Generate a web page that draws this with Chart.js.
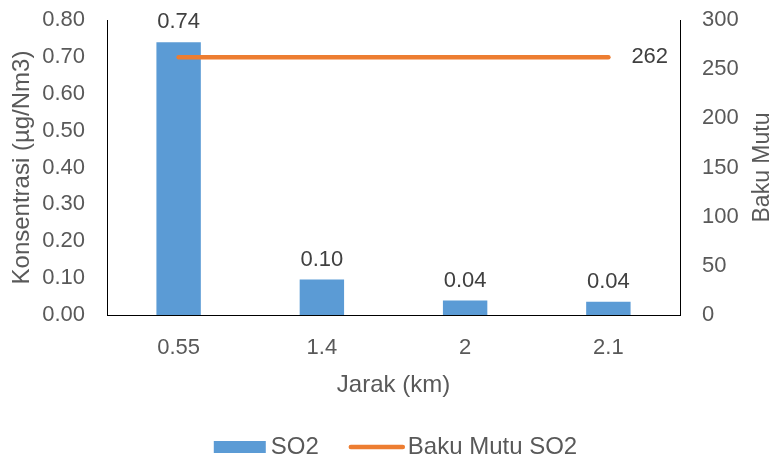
<!DOCTYPE html>
<html>
<head>
<meta charset="utf-8">
<script src="https://cdn.jsdelivr.net/npm/chart.js@4.4.1/dist/chart.umd.min.js"></script>
<style>
  html, body { margin: 0; padding: 0; background: #fff; }
  #wrap { width: 777px; height: 461px; }
</style>
</head>
<body>
<div id="wrap"><canvas id="c" width="777" height="461"></canvas></div>
<script>
// Distance from source (km) and measured SO2 concentration
const categories = ['0.55', '1.4', '2', '2.1'];
const so2Values = [0.74, 0.096, 0.039, 0.036];
const bakuMutuValues = [262, 262, 262, 262];
const leftTicks = [0, 0.8, 0.1];   // min, max, step
const rightTicks = [0, 300, 50];   // min, max, step
const rightTitle = 'Baku Mutu';

const FONT = '"Liberation Sans", Arial, sans-serif';
const BLUE = '#5B9BD5';
const ORANGE = '#ED7D31';
const GREY = '#595959';

// Writes the value above each bar and beside the last point of the line
const valueLabels = {
  id: 'valueLabels',
  afterDatasetsDraw(chart) {
    const ctx = chart.ctx;
    ctx.save();
    ctx.font = '22px ' + FONT;
    ctx.fillStyle = '#404040';
    const barMeta = chart.getDatasetMeta(0);
    barMeta.data.forEach((el, i) => {
      ctx.textAlign = 'center';
      ctx.textBaseline = 'alphabetic';
      ctx.fillText(so2Values[i].toFixed(2), el.x, el.y - 14);
    });
    const lineMeta = chart.getDatasetMeta(1);
    const last = lineMeta.data[lineMeta.data.length - 1];
    ctx.textAlign = 'left';
    ctx.textBaseline = 'middle';
    ctx.fillText(String(bakuMutuValues[bakuMutuValues.length - 1]), last.x + 23, last.y);
    ctx.restore();
  }
};

// Right-axis title (reads bottom to top) and the legend row under the chart
const extras = {
  id: 'extras',
  afterDraw(chart) {
    const ctx = chart.ctx;
    const area = chart.chartArea;
    ctx.save();

    // right axis title
    ctx.font = '23px ' + FONT;
    ctx.fillStyle = GREY;
    ctx.textAlign = 'center';
    ctx.textBaseline = 'middle';
    ctx.translate(763, (area.top + area.bottom) / 2);
    ctx.rotate(-Math.PI / 2);
    ctx.fillText(rightTitle, 0, 0);
    ctx.setTransform(1, 0, 0, 1, 0, 0);

    // legend
    const ds = chart.data.datasets;
    ctx.font = '24px ' + FONT;
    const swatchW = 52, textGap = 5, itemGap = 30;
    const w0 = ctx.measureText(ds[0].label).width;
    const w1 = ctx.measureText(ds[1].label).width;
    const total = swatchW + textGap + w0 + itemGap + 56 + 3 + w1;
    let x = (area.left + area.right) / 2 - total / 2 + 2;
    const cy = 447;
    ctx.fillStyle = ds[0].backgroundColor;
    ctx.fillRect(x, cy - 6, swatchW, 12);
    x += swatchW + textGap;
    ctx.fillStyle = GREY;
    ctx.textAlign = 'left';
    ctx.textBaseline = 'middle';
    ctx.fillText(ds[0].label, x, cy);
    x += w0 + itemGap;
    ctx.strokeStyle = ds[1].borderColor;
    ctx.lineWidth = 4.5;
    ctx.lineCap = 'round';
    ctx.beginPath();
    ctx.moveTo(x + 2, cy);
    ctx.lineTo(x + 54, cy);
    ctx.stroke();
    x += 56 + 3;
    ctx.fillText(ds[1].label, x, cy);
    ctx.restore();
  }
};

// Vertical axes: fixed width, no extra top/bottom label padding
function fixVertical(width) {
  return function (scale) {
    scale.width = width;
    scale.paddingTop = 0;
    scale.paddingBottom = 0;
  };
}

new Chart(document.getElementById('c'), {
  type: 'bar',
  data: {
    labels: categories,
    datasets: [
      {
        type: 'bar',
        label: 'SO2',
        data: so2Values,
        backgroundColor: BLUE,
        borderWidth: 0,
        categoryPercentage: 1,
        barPercentage: 0.31,
        yAxisID: 'y',
        order: 2
      },
      {
        type: 'line',
        label: 'Baku Mutu SO2',
        data: bakuMutuValues,
        borderColor: ORANGE,
        backgroundColor: ORANGE,
        borderWidth: 4.5,
        borderCapStyle: 'round',
        pointRadius: 0,
        tension: 0,
        yAxisID: 'y2',
        order: 1
      }
    ]
  },
  options: {
    responsive: false,
    animation: false,
    layout: { padding: { top: 20, left: 0, right: 0, bottom: 37 } },
    plugins: {
      tooltip: { enabled: false },
      legend: { display: false }
    },
    scales: {
      x: {
        offset: true,
        grid: { display: false, drawTicks: false },
        border: { display: true, color: '#000', width: 1 },
        ticks: { color: GREY, font: { family: FONT, size: 22 }, padding: 20, maxRotation: 0 },
        title: { display: true, text: 'Jarak (km)', color: GREY, font: { family: FONT, size: 24 }, padding: { top: 0, bottom: 24 } },
        afterFit(scale) { scale.height = 109; }
      },
      y: {
        position: 'left',
        min: leftTicks[0],
        max: leftTicks[1],
        grid: { display: false, drawTicks: false },
        border: { display: true, color: '#000', width: 1 },
        ticks: {
          stepSize: leftTicks[2],
          color: GREY,
          padding: 22,
          font: { family: FONT, size: 22 },
          callback: v => Number(v).toFixed(2)
        },
        title: { display: true, text: 'Konsentrasi (µg/Nm3)', color: GREY, font: { family: FONT, size: 24 }, padding: { top: 8, bottom: 0 } },
        afterFit: fixVertical(107)
      },
      y2: {
        position: 'right',
        min: rightTicks[0],
        max: rightTicks[1],
        grid: { display: false, drawTicks: false },
        border: { display: true, color: '#000', width: 1 },
        ticks: {
          stepSize: rightTicks[2],
          color: GREY,
          padding: 22,
          font: { family: FONT, size: 22 }
        },
        title: { display: false },
        afterFit: fixVertical(97)
      }
    }
  },
  plugins: [valueLabels, extras]
});
</script>
</body>
</html>
